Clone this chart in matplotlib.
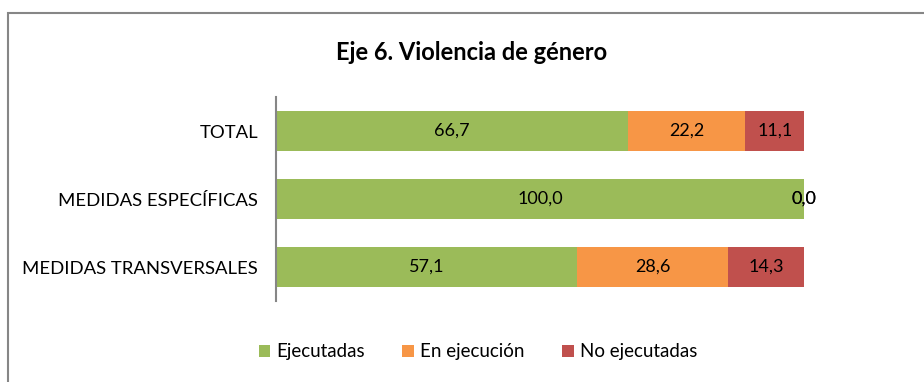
import numpy as np
import matplotlib
matplotlib.use("Agg")
import matplotlib.pyplot as plt
from matplotlib.patches import Rectangle

plt.rcParams["font.family"] = ["Lato", "DejaVu Sans"]

categories = ["TOTAL", "MEDIDAS ESPECÍFICAS", "MEDIDAS TRANSVERSALES"]
ejecutadas = [66.7, 100.0, 57.1]
en_ejecucion = [22.2, 0.0, 28.6]
no_ejecutadas = [11.1, 0.0, 14.3]
series_names = ["Ejecutadas", "En ejecución", "No ejecutadas"]
colors = ["#9BBB59", "#F79646", "#C0504D"]

fig = plt.figure(figsize=(9.24, 3.82), dpi=100)
ax = fig.add_axes([276/924, (382-301)/382, (804-276)/924, 204/382])

y = np.arange(len(categories))
left = np.zeros(len(categories))
for vals, name, col in zip([ejecutadas, en_ejecucion, no_ejecutadas], series_names, colors):
    vals = np.array(vals)
    ax.barh(y, vals, left=left, height=0.59, color=col, label=name)
    for yi, l, v in zip(y, left, vals):
        ax.text(l + v / 2, yi, f"{v:.1f}".replace(".", ","), ha="center", va="center",
                fontsize=13, color="black")
    left += vals

ax.set_xlim(0, 100)
ax.set_ylim(2.5, -0.5)
ax.set_yticks(y)
ax.set_yticklabels(categories, fontsize=13.3)
ax.tick_params(axis="y", length=0, pad=13)
ax.set_xticks([])
for s in ["top", "right", "bottom"]:
    ax.spines[s].set_visible(False)
ax.spines["left"].set_color("#868686")
ax.spines["left"].set_linewidth(1.5)

fig.text(472/924, 1 - 52/382, "Eje 6. Violencia de género", ha="center", va="center",
         fontsize=17, fontweight="bold")

leg = fig.legend(loc="center", bbox_to_anchor=(478/924, 1 - 352/382), ncol=3, frameon=False,
                 fontsize=13.5, handlelength=0.6, handleheight=0.6, handletextpad=0.35,
                 columnspacing=2.0)

# chart frame
fig.patches.append(Rectangle((8/924, -0.05), 1.1, 1 - 13/382 + 0.05, transform=fig.transFigure,
                             fill=False, edgecolor="#868686", linewidth=1.5))

fig.savefig("out.png", dpi=100)
